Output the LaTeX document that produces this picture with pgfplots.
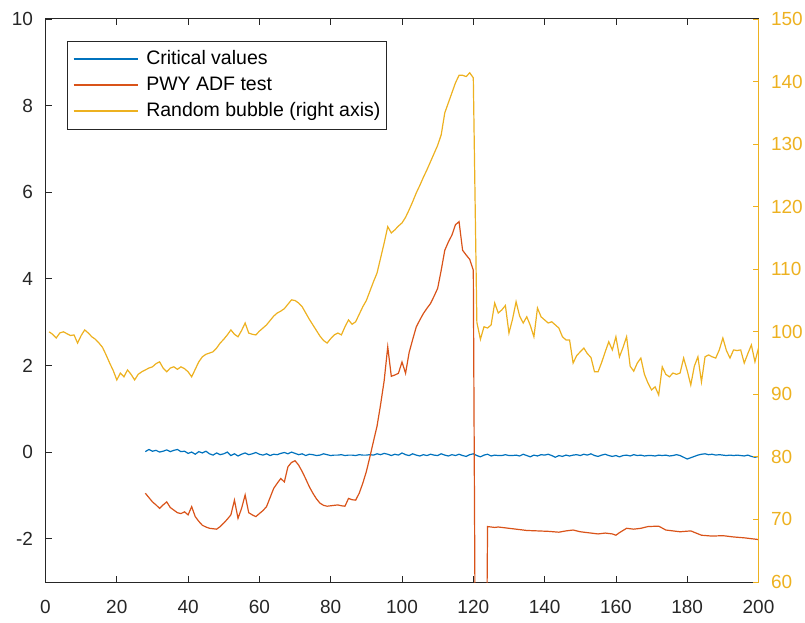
\documentclass[border=0pt]{standalone}
\usepackage{pgfplots}
\pgfplotsset{compat=1.18}
\usepackage{fontspec}
\setmainfont{Liberation Sans}

\definecolor{mlblue}{rgb}{0,0.447,0.741}
\definecolor{mlred}{rgb}{0.85,0.325,0.098}
\definecolor{mlyellow}{rgb}{0.929,0.694,0.125}
\definecolor{axgray}{rgb}{0.15,0.15,0.15}

\pgfplotsset{
  twin/.style={
    at={(0pt,0pt)}, anchor=south west,
    scale only axis, width=713pt, height=563pt,
    xmin=0, xmax=200,
    tick align=inside,
    major tick length=6pt,
    /pgf/number format/assume math mode=true,
    tick label style={font=\fontsize{19}{22}\selectfont},
  }
}

\begin{document}
\begin{tikzpicture}
\path[use as bounding box] (-45.5pt,-40pt) rectangle (759.5pt,582pt);

\begin{axis}[
    twin,
    ymin=-3, ymax=10,
    xtick={0,20,...,200},
    ytick={-2,0,...,10},
    xtick pos=both, ytick pos=left,
    axis line style={axgray, line width=1pt},
    tick style={axgray, line width=0.8pt},
    ticklabel style={text=axgray},
    xticklabel style={yshift=-15pt},
    yticklabel style={xshift=-9pt},
    legend image code/.code={\draw[#1] (0pt,0pt) -- (64pt,0pt);},
    legend cell align=left,
    legend style={
        at={(rel axis cs:0.0297,0.9615)}, anchor=north west,
        draw=axgray, line width=0.8pt,
        font=\fontsize{19.5}{22}\selectfont,
        inner xsep=6pt, inner ysep=7pt, row sep=4pt,
        nodes={inner xsep=0pt, inner ysep=2pt, text height=14pt, text depth=4pt},
        /tikz/every odd column/.append style={column sep=8pt},
    },
]
% --- critical values ---
\addplot[mlblue, line width=1.2pt] coordinates {
(28,0.01) (29,0.06) (30,0.02) (31,0.04) (32,0.00) (33,0.02) (34,0.05) (35,0.01)
(36,0.04) (37,0.06) (38,0.01) (39,0.02) (40,-0.03) (41,0.00) (42,-0.05) (43,0.01)
(44,-0.02) (45,0.02) (46,-0.04) (47,-0.07) (48,-0.02) (49,-0.06) (50,-0.04) (51,0.00)
(52,-0.08) (53,-0.04) (54,-0.09) (55,-0.05) (56,-0.02) (57,-0.06) (58,-0.04) (59,-0.01)
(60,-0.05) (61,-0.07) (62,-0.04) (63,-0.08) (64,-0.05) (65,-0.06) (66,-0.03) (67,-0.01)
(68,-0.04) (69,0.00) (70,-0.03) (71,-0.06) (72,-0.04) (73,-0.08) (74,-0.05) (75,-0.06)
(76,-0.08) (77,-0.07) (78,-0.04) (79,-0.06) (80,-0.08) (81,-0.07) (82,-0.07) (83,-0.06)
(84,-0.08) (85,-0.07) (86,-0.07) (87,-0.08) (88,-0.06) (89,-0.07) (90,-0.07) (91,-0.06)
(92,-0.07) (93,-0.04) (94,-0.06) (95,-0.03) (96,-0.05) (97,-0.08) (98,-0.05) (99,-0.07)
(100,-0.02) (101,-0.06) (102,-0.08) (103,-0.04) (104,-0.07) (105,-0.09) (106,-0.06) (107,-0.08)
(108,-0.05) (109,-0.07) (110,-0.08) (111,-0.04) (112,-0.07) (113,-0.09) (114,-0.06) (115,-0.08)
(116,-0.05) (117,-0.08) (118,-0.10) (119,-0.06) (120,-0.04) (121,-0.08) (122,-0.11) (123,-0.07)
(124,-0.05) (125,-0.09) (126,-0.07) (127,-0.08) (128,-0.08) (129,-0.06) (130,-0.08) (131,-0.08)
(132,-0.07) (133,-0.09) (134,-0.05) (135,-0.08) (136,-0.11) (137,-0.07) (138,-0.09) (139,-0.06)
(140,-0.07) (141,-0.05) (142,-0.08) (143,-0.12) (144,-0.08) (145,-0.10) (146,-0.07) (147,-0.09)
(148,-0.07) (149,-0.06) (150,-0.08) (151,-0.05) (152,-0.07) (153,-0.04) (154,-0.08) (155,-0.10)
(156,-0.07) (157,-0.05) (158,-0.08) (159,-0.10) (160,-0.08) (161,-0.11) (162,-0.08) (163,-0.07)
(164,-0.09) (165,-0.06) (166,-0.08) (167,-0.07) (168,-0.09) (169,-0.08) (170,-0.08) (171,-0.09)
(172,-0.07) (173,-0.08) (174,-0.07) (175,-0.09) (176,-0.08) (177,-0.06) (178,-0.08) (179,-0.12)
(180,-0.16) (181,-0.13) (182,-0.10) (183,-0.07) (184,-0.05) (185,-0.04) (186,-0.06) (187,-0.05)
(188,-0.07) (189,-0.06) (190,-0.07) (191,-0.08) (192,-0.07) (193,-0.08) (194,-0.07) (195,-0.08)
(196,-0.09) (197,-0.07) (198,-0.10) (199,-0.12) (200,-0.10)
};
% --- PWY ADF statistic ---
\addplot[mlred, line width=1.2pt] coordinates {
(28,-0.95) (29,-1.05) (30,-1.15) (31,-1.22) (32,-1.30) (33,-1.22) (34,-1.15) (35,-1.28)
(36,-1.34) (37,-1.40) (38,-1.42) (39,-1.38) (40,-1.45) (41,-1.26) (42,-1.49) (43,-1.60)
(44,-1.69) (45,-1.73) (46,-1.76) (47,-1.77) (48,-1.78) (49,-1.72) (50,-1.64) (51,-1.55)
(52,-1.45) (53,-1.11) (54,-1.53) (55,-1.30) (56,-0.99) (57,-1.40) (58,-1.45) (59,-1.49)
(60,-1.42) (61,-1.35) (62,-1.26) (63,-1.05) (64,-0.84) (65,-0.72) (66,-0.61) (67,-0.69)
(68,-0.34) (69,-0.24) (70,-0.20) (71,-0.30) (72,-0.45) (73,-0.62) (74,-0.80) (75,-0.95)
(76,-1.08) (77,-1.18) (78,-1.23) (79,-1.25) (80,-1.24) (81,-1.23) (82,-1.22) (83,-1.24)
(84,-1.25) (85,-1.07) (86,-1.10) (87,-1.11) (88,-0.95) (89,-0.72) (90,-0.45) (91,-0.11)
(92,0.25) (93,0.60) (94,1.10) (95,1.65) (96,2.43) (97,1.75) (98,1.78) (99,1.82)
(100,2.08) (101,1.82) (102,2.30) (103,2.60) (104,2.89) (105,3.05) (106,3.20) (107,3.32)
(108,3.43) (109,3.60) (110,3.78) (111,4.20) (112,4.66) (113,4.85) (114,5.01) (115,5.25)
(116,5.32) (117,4.66) (118,4.55) (119,4.45) (120,4.20) (121,-12) (122,-12) (123,-12)
(124,-1.72) (125,-1.73) (126,-1.74) (127,-1.73) (128,-1.74) (130,-1.76) (132,-1.78) (135,-1.81)
(138,-1.82) (141,-1.83) (144,-1.85) (146,-1.82) (148,-1.80) (150,-1.84) (152,-1.86) (155,-1.89)
(157,-1.87) (159,-1.89) (160,-1.92) (161,-1.86) (163,-1.76) (165,-1.78) (167,-1.76) (169,-1.72)
(172,-1.71) (174,-1.80) (176,-1.82) (178,-1.84) (181,-1.82) (184,-1.92) (187,-1.94) (190,-1.93)
(193,-1.96) (196,-1.98) (198,-2.00) (200,-2.02)
};
\addlegendimage{mlyellow, line width=1.2pt}
\legend{Critical values, PWY ADF test, Random bubble (right axis)}
\end{axis}

\begin{axis}[
    twin,
    ymin=60, ymax=150,
    ytick={60,70,...,150},
    axis x line=none,
    axis y line*=right,
    y axis line style={mlyellow, line width=1pt},
    ytick style={mlyellow, line width=0.8pt},
    yticklabel style={text=mlyellow, xshift=9pt},
]
% --- random bubble series ---
\addplot[mlyellow, line width=1.2pt] coordinates {
(1,100.0) (2,99.6) (3,99.0) (4,99.8) (5,100.0) (6,99.7) (7,99.4) (8,99.5)
(9,98.2) (10,99.4) (11,100.3) (12,99.8) (13,99.2) (14,98.8) (15,98.2) (16,97.5)
(17,96.3) (18,95.0) (19,93.8) (20,92.3) (21,93.4) (22,92.8) (23,93.9) (24,93.2)
(25,92.3) (26,93.2) (27,93.6) (28,93.9) (29,94.2) (30,94.4) (31,94.9) (32,95.2)
(33,94.2) (34,93.6) (35,94.2) (36,94.4) (37,94.0) (38,94.4) (39,94.1) (40,93.6)
(41,92.8) (42,94.0) (43,95.2) (44,96.0) (45,96.4) (46,96.6) (47,96.8) (48,97.4)
(49,98.2) (50,98.8) (51,99.5) (52,100.3) (53,99.6) (54,99.2) (55,100.2) (56,101.4)
(57,99.8) (58,99.6) (59,99.5) (60,100.1) (61,100.6) (62,101.1) (63,101.8) (64,102.5)
(65,103.0) (66,103.3) (67,103.7) (68,104.4) (69,105.1) (70,105.0) (71,104.6) (72,104.0)
(73,103.0) (74,102.0) (75,101.1) (76,100.2) (77,99.3) (78,98.6) (79,98.2) (80,98.9)
(81,99.5) (82,99.8) (83,99.5) (84,100.8) (85,101.9) (86,101.2) (87,101.6) (88,102.8)
(89,104.0) (90,105.0) (91,106.5) (92,108.0) (93,109.4) (94,111.8) (95,114.2) (96,116.8)
(97,115.8) (98,116.3) (99,116.9) (100,117.4) (101,118.3) (102,119.5) (103,120.8) (104,122.2)
(105,123.4) (106,124.7) (107,125.9) (108,127.2) (109,128.5) (110,129.8) (111,131.5) (112,135.0)
(113,136.6) (114,138.2) (115,139.8) (116,141.0) (117,141.0) (118,140.8) (119,141.4) (120,140.6)
(121,101.5) (122,98.8) (123,100.8) (124,100.6) (125,101.1) (126,104.6) (127,103.0) (128,103.5)
(129,104.2) (130,99.8) (131,102.0) (132,104.8) (133,102.5) (134,101.4) (135,102.4) (136,101.0)
(137,99.2) (138,103.8) (139,102.4) (140,101.9) (141,101.4) (142,101.6) (143,101.1) (144,100.6)
(145,99.2) (146,98.7) (147,98.7) (148,95.0) (149,96.2) (150,96.8) (151,97.4) (152,96.5)
(153,95.9) (154,93.6) (155,93.6) (156,95.1) (157,96.8) (158,98.4) (159,97.1) (160,99.2)
(161,96.0) (162,97.5) (163,99.2) (164,94.5) (165,93.7) (166,95.0) (167,95.8) (168,93.2)
(169,91.8) (170,90.7) (171,91.2) (172,89.9) (173,94.4) (174,93.2) (175,92.8) (176,93.4)
(177,93.2) (178,93.4) (179,95.8) (180,93.8) (181,91.5) (182,94.5) (183,96.0) (184,92.0)
(185,96.0) (186,96.3) (187,96.0) (188,95.8) (189,97.1) (190,99.0) (191,97.0) (192,95.8)
(193,97.1) (194,97.0) (195,97.1) (196,95.0) (197,96.5) (198,97.9) (199,95.2) (200,97.4)
};
\end{axis}
\end{tikzpicture}
\end{document}
